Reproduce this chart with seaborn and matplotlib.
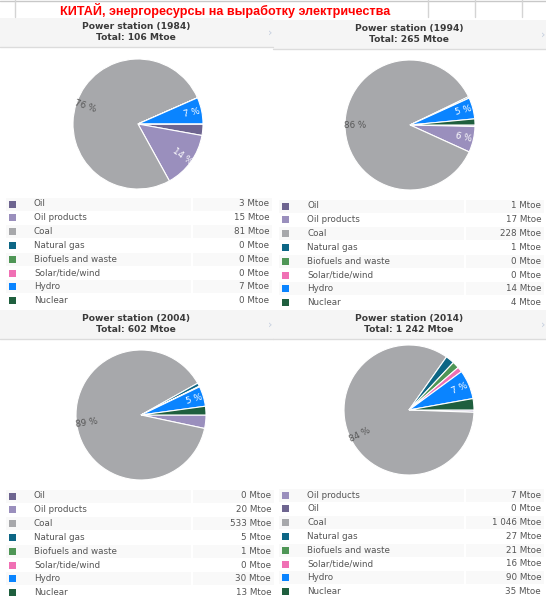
import numpy as np
import matplotlib
matplotlib.use("Agg")
import matplotlib.pyplot as plt
import seaborn as sns
from matplotlib.patches import Rectangle

# ---------------------------------------------------------------
# data
# ---------------------------------------------------------------
SOURCES = ["Oil", "Oil products", "Coal", "Natural gas", "Biofuels and waste",
           "Solar/tide/wind", "Hydro", "Nuclear"]
SOURCES_2014 = ["Oil products", "Oil", "Coal", "Natural gas", "Biofuels and waste",
                "Solar/tide/wind", "Hydro", "Nuclear"]
YEARS = [1984, 1994, 2004, 2014]
V1984 = [3, 15, 81, 0, 0, 0, 7, 0]
V1994 = [1, 17, 228, 1, 0, 0, 14, 4]
V2004 = [0, 20, 533, 5, 1, 0, 30, 13]
V2014 = [7, 0, 1046, 27, 21, 16, 90, 35]

COLORS = {
    "Oil": "#6e6590",
    "Oil products": "#9a8fbd",
    "Coal": "#a7a8ab",
    "Natural gas": "#0d6685",
    "Biofuels and waste": "#4f9656",
    "Solar/tide/wind": "#f070b4",
    "Hydro": "#0a84ff",
    "Nuclear": "#1f5f3e",
}
TITLE = "КИТАЙ, энергоресурсы на выработку электричества"

# layout (pixels)
W, H = 546, 600
PANELS = [
    dict(labels=SOURCES, values=V1984, centre=(138, 124), head=18, x0=0, xr=269, row0=204),
    dict(labels=SOURCES, values=V1994, centre=(410, 125), head=20, x0=273, xr=541, row0=206),
    dict(labels=SOURCES, values=V2004, centre=(141, 415), head=310, x0=0, xr=271, row0=496),
    dict(labels=SOURCES_2014, values=V2014, centre=(409, 410), head=310, x0=273, xr=541, row0=495),
]
RADIUS = 65
ROW_H = 13.8

sns.set_theme(style="white")
plt.rcParams["font.family"] = ["DejaVu Sans"]

fig = plt.figure(figsize=(W / 100, H / 100), dpi=100)
bg = fig.add_axes([0, 0, 1, 1])
bg.set_xlim(0, W)
bg.set_ylim(H, 0)
bg.axis("off")

# spreadsheet grid strip at the top
bg.plot([0, W], [1, 1], color="#c8c8c8", lw=1)
for gx in [15, 428, 475, 522]:
    bg.plot([gx, gx], [0, 17], color="#d4d4d4", lw=1)
bg.text(60, 10, TITLE, color="#ff0000", fontsize=9.1, fontweight="bold",
        family=["Liberation Sans", "DejaVu Sans"], ha="left", va="center")


def fmt_total(v):
    return f"{v:,}".replace(",", " ")


for year, p in zip(YEARS, PANELS):
    labels, values = p["labels"], p["values"]
    total = sum(values)
    x0 = p["x0"]

    # header band
    bg.add_patch(Rectangle((x0, p["head"]), 273, 29, facecolor="#f5f5f5",
                           edgecolor="none"))
    bg.plot([x0, x0 + 273], [p["head"] + 29, p["head"] + 29], color="#dcdcdc", lw=1)
    bg.text(x0 + 136, p["head"] + 8, f"Power station ({year})", ha="center",
            va="center", fontsize=6.6, fontweight="bold", color="#3a3a3a")
    bg.text(x0 + 136, p["head"] + 20, f"Total: {fmt_total(total)} Mtoe", ha="center",
            va="center", fontsize=6.6, fontweight="bold", color="#3a3a3a")
    bg.text(x0 + 270, p["head"] + 15, "›", ha="center", va="center",
            fontsize=8, color="#c4cede")

    # pie
    cx, cy = p["centre"]
    ax = fig.add_axes([(cx - RADIUS) / W, 1 - (cy + RADIUS) / H,
                       2 * RADIUS / W, 2 * RADIUS / H])
    ax.patch.set_alpha(0)
    pal = sns.color_palette([COLORS[l] for l in labels])
    wedges, _, autotexts = ax.pie(
        values, colors=pal, startangle=0, counterclock=False,
        wedgeprops=dict(edgecolor="white", linewidth=0.8),
        autopct=lambda pct: f"{pct:.0f} %" if pct >= 4.5 else "",
        pctdistance=0.85, textprops=dict(fontsize=6.3),
    )
    for w, t, lab in zip(wedges, autotexts, labels):
        mid = (w.theta1 + w.theta2) / 2 % 360
        rot = mid if mid <= 90 or mid > 270 else mid - 180
        t.set_rotation(rot)
        t.set_rotation_mode("anchor")
        t.set_ha("center")
        t.set_va("center")
        t.set_color("#555555" if lab == "Coal" else "white")
    ax.set_xlim(-1, 1)
    ax.set_ylim(-1, 1)
    ax.set_aspect("equal")
    ax.axis("off")

    # legend table
    for i, (lab, val) in enumerate(zip(labels, values)):
        ry = p["row0"] + i * ROW_H
        if i % 2 == 0:
            bg.add_patch(Rectangle((x0 + 6, ry - 6.5), 185, 13, facecolor="#f9f9f9",
                                   edgecolor="none"))
            bg.add_patch(Rectangle((x0 + 193, ry - 6.5), p["xr"] - x0 - 190, 13,
                                   facecolor="#f9f9f9", edgecolor="none"))
        bg.add_patch(Rectangle((x0 + 9, ry - 3.5), 7, 7, facecolor=COLORS[lab],
                               edgecolor="none"))
        bg.text(x0 + 34, ry, lab, ha="left", va="center", fontsize=6.3, color="#555555")
        bg.text(p["xr"], ry, f"{fmt_total(val)} Mtoe", ha="right", va="center",
                fontsize=6.3, color="#555555")

plt.savefig("out.png", dpi=100)
plt.close()
